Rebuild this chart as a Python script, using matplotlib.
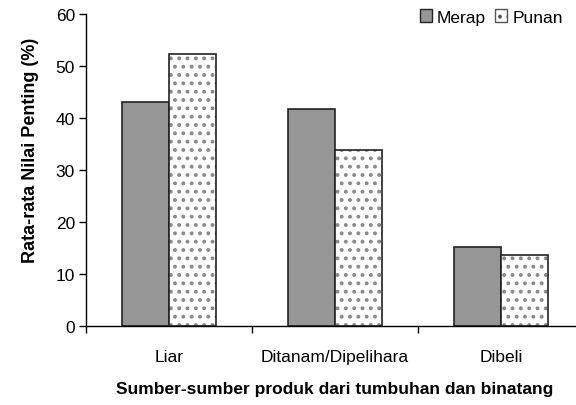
import numpy as np
import matplotlib
matplotlib.use("Agg")
import matplotlib.pyplot as plt
from matplotlib.patches import Patch

plt.rcParams['font.family'] = ['Liberation Sans', 'DejaVu Sans']
plt.rcParams['hatch.linewidth'] = 1.6

categories = ["Liar", "Ditanam/Dipelihara", "Dibeli"]
merap = [43.0, 41.8, 15.1]
punan = [52.3, 33.8, 13.7]

fig = plt.figure(figsize=(5.76, 4.06), dpi=100)
ax = fig.add_axes([86 / 576, 79.3 / 406, 498 / 576, 311.7 / 406])

x = np.arange(len(categories))
w = 0.283
fs = 12.5

# Merap bars, solid grey
ax.bar(x - w / 2, merap, w, color="#969696", edgecolor="#222222", linewidth=1.2, zorder=2)
# Punan bars, dotted fill then outline
ax.bar(x + w / 2, punan, w, color="white", edgecolor="#8a8a8a", hatch="..", linewidth=0, zorder=2)
ax.bar(x + w / 2, punan, w, fill=False, edgecolor="#222222", linewidth=1.2, zorder=3)

ax.set_xlim(-0.5, 2.5)
ax.set_ylim(0, 60)
ax.set_yticks([0, 10, 20, 30, 40, 50, 60])
ax.tick_params(axis="y", direction="out", length=5, width=1, labelsize=fs, pad=3)

# ticks at category boundaries, labels at centres
ax.set_xticks([-0.5, 0.5, 1.5, 2.5])
ax.set_xticklabels([])
ax.set_xticks(x, minor=True)
ax.set_xticklabels(categories, minor=True)
ax.tick_params(axis="x", which="major", direction="out", length=5, width=1)
ax.tick_params(axis="x", which="minor", length=0, labelsize=fs, pad=17)

for s in ["top", "right"]:
    ax.spines[s].set_visible(False)
ax.spines["left"].set_linewidth(1)
ax.spines["bottom"].set_linewidth(1)

ax.set_ylabel("Rata-rata Nilai Penting (%)", fontsize=13, fontweight="bold")
ax.yaxis.set_label_coords((39 - 86) / 498, (326.7 - 150) / 311.7)
ax.set_xlabel("Sumber-sumber produk dari tumbuhan dan binatang", fontsize=fs,
              fontweight="bold", labelpad=12)

handles = [Patch(facecolor="#969696", edgecolor="#222222", label="Merap"),
           Patch(facecolor="white", edgecolor="#555555", hatch="..", label="Punan")]
fig.legend(handles=handles, loc="upper right", bbox_to_anchor=(0.995, 1.0), frameon=False,
           fontsize=fs, ncol=2, handlelength=0.7, handleheight=0.7, handletextpad=0.3,
           columnspacing=0.5, borderaxespad=0.2)

fig.savefig("out.png", dpi=100)
